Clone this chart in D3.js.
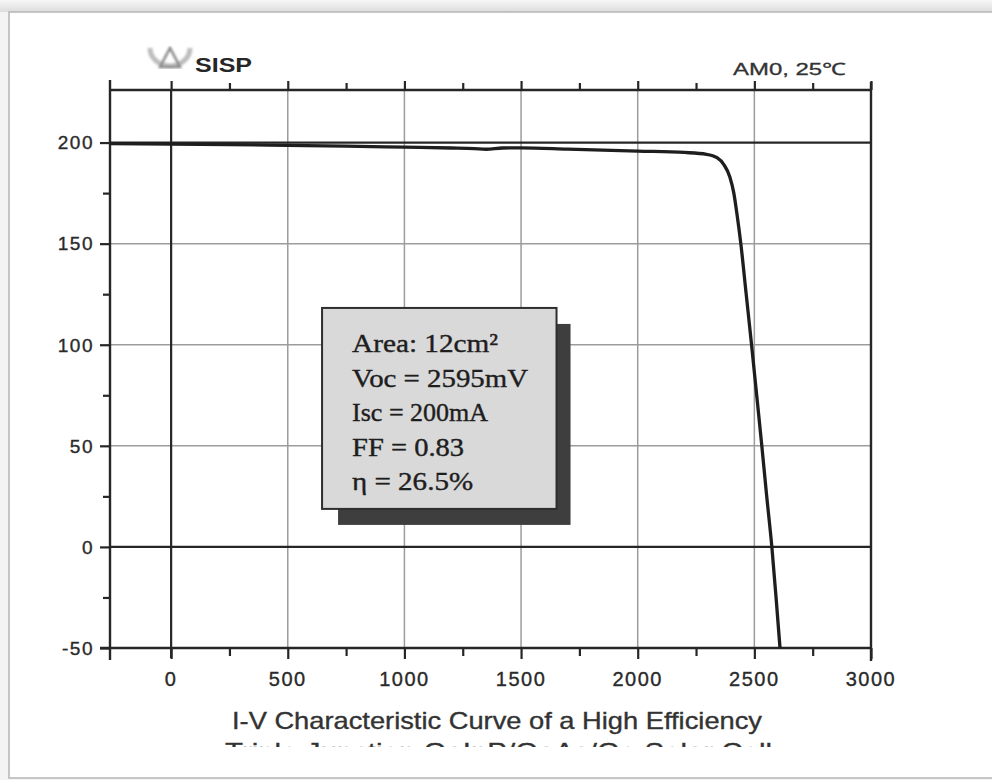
<!DOCTYPE html>
<html>
<head>
<meta charset="utf-8">
<script src="https://cdn.jsdelivr.net/npm/d3@7"></script>
<style>
  html, body { margin: 0; padding: 0; background: #f4f4f4; }
  svg { display: block; }
</style>
</head>
<body>
<svg id="chart" width="992" height="780"></svg>
<script>
// ---- data ----
const voltage = [-262, 0, 250, 500, 750, 1000, 1200, 1300, 1350, 1420, 1500, 1700, 2000, 2200, 2295, 2340, 2370, 2395, 2412, 2425, 2442, 2465, 2488, 2510, 2532, 2553, 2575, 2593, 2610];
const current = [199.5, 199.3, 199.0, 198.6, 198.2, 197.7, 197.3, 197.0, 196.7, 197.3, 197.4, 196.8, 195.8, 195.1, 194.2, 192.5, 189, 183, 175, 165, 150, 125, 100, 75, 50, 25, 0, -25, -50];
const xMajor = [0, 500, 1000, 1500, 2000, 2500, 3000];
const xMinor = [250, 750, 1250, 1750, 2250, 2750];
const yMajor = [200, 150, 100, 50, 0, -50];
const yMinor = [175, 125, 75, 25, -25];
const xDarkGrid = [0];
const xGrayGrid = [500, 1000, 1500, 2000, 2500];
const yDarkGrid = [200, 0];
const yGrayGrid = [150, 100, 50];
const infoLines = ["Area: 12cm\u00B2", "Voc = 2595mV", "Isc = 200mA", "FF = 0.83", "\u03B7 = 26.5%"];
const infoWidths = [146, 176, 136, 112, 121];
const infoBox = {v0: 647, v1: 1652, i0: 118.2, i1: 18.8};
const captionLines = ["I-V Characteristic Curve of a High Efficiency", "Triple Junction GaInP/GaAs/Ge Solar Cell"];

// ---- layout ----
const svg = d3.select("#chart");
const L = 110, R = 871, T = 90, B = 648;
const x = d3.scaleLinear().domain([-262, 3000]).range([L, R]);
const y = d3.scaleLinear().domain([-50, 226]).range([B, T]);

const defs = svg.append("defs");
defs.append("filter").attr("id", "blur").append("feGaussianBlur").attr("stdDeviation", 1.2);
const grad = defs.append("linearGradient").attr("id", "topShade").attr("x1", 0).attr("x2", 0).attr("y1", 0).attr("y2", 1);
grad.append("stop").attr("offset", "0%").attr("stop-color", "#f7f7f7");
grad.append("stop").attr("offset", "100%").attr("stop-color", "#dcdcdc");
defs.append("clipPath").attr("id", "capClip").append("rect").attr("x", 0).attr("y", 690).attr("width", 992).attr("height", 57);

// page frame
svg.append("rect").attr("x", 0).attr("y", 0).attr("width", 992).attr("height", 12).attr("fill", "url(#topShade)");
svg.append("rect").attr("x", 9).attr("y", 12).attr("width", 1000).attr("height", 766)
  .attr("fill", "#ffffff").attr("stroke", "#b5b5b5").attr("stroke-width", 1.5);

// grid
const g = svg.append("g");
g.selectAll(".vg").data(xGrayGrid).join("line")
  .attr("x1", d => x(d)).attr("x2", d => x(d)).attr("y1", T).attr("y2", B)
  .attr("stroke", "#9c9c9c").attr("stroke-width", 1.5);
g.selectAll(".hg").data(yGrayGrid).join("line")
  .attr("x1", L).attr("x2", R).attr("y1", d => y(d)).attr("y2", d => y(d))
  .attr("stroke", "#9c9c9c").attr("stroke-width", 1.5);
g.selectAll(".vd").data(xDarkGrid).join("line")
  .attr("x1", d => x(d)).attr("x2", d => x(d)).attr("y1", T).attr("y2", B + 10)
  .attr("stroke", "#262626").attr("stroke-width", 2.2);
g.selectAll(".hd").data(yDarkGrid).join("line")
  .attr("x1", L).attr("x2", R).attr("y1", d => y(d)).attr("y2", d => y(d))
  .attr("stroke", "#262626").attr("stroke-width", 2.2);

// axes ticks
function styleAxis(sel) {
  sel.select(".domain").remove();
  sel.selectAll("line").attr("stroke", "#262626").attr("stroke-width", 2.2);
}
svg.append("g").attr("transform", `translate(${L},0)`)
  .call(d3.axisLeft(y).tickValues(yMajor).tickSize(10).tickFormat("")).call(styleAxis);
svg.append("g").attr("transform", `translate(${L},0)`)
  .call(d3.axisLeft(y).tickValues(yMinor).tickSize(7).tickFormat("")).call(styleAxis);
svg.append("g").attr("transform", `translate(0,${B})`)
  .call(d3.axisBottom(x).tickValues(xMajor).tickSize(11).tickFormat("")).call(styleAxis);
svg.append("g").attr("transform", `translate(0,${B})`)
  .call(d3.axisBottom(x).tickValues(xMinor).tickSize(8).tickFormat("")).call(styleAxis);
svg.append("g").attr("transform", `translate(0,${T})`)
  .call(d3.axisTop(x).tickValues(xMajor).tickSize(9).tickFormat("")).call(styleAxis);
svg.append("g").attr("transform", `translate(0,${T})`)
  .call(d3.axisTop(x).tickValues(xMinor).tickSize(7).tickFormat("")).call(styleAxis);

// frame lines
const fr = svg.append("g").attr("stroke", "#262626").attr("stroke-width", 2.4);
fr.append("line").attr("x1", L).attr("x2", L).attr("y1", T - 10).attr("y2", B + 12);
fr.append("line").attr("x1", R).attr("x2", R).attr("y1", T - 8).attr("y2", B + 13);
fr.append("line").attr("x1", L).attr("x2", R).attr("y1", T).attr("y2", T);
fr.append("line").attr("x1", L - 10).attr("x2", R).attr("y1", B).attr("y2", B);

// tick labels
svg.append("g").selectAll("text").data(yMajor).join("text")
  .attr("x", 94).attr("y", d => y(d)).attr("dy", "0.36em")
  .attr("text-anchor", "end").attr("font-family", "Liberation Sans, Arial, sans-serif")
  .attr("font-size", 19).attr("letter-spacing", 1.5).attr("fill", "#2a2a2a")
  .attr("stroke", "#2a2a2a").attr("stroke-width", 0.35)
  .text(d => d);
svg.append("g").selectAll("text").data(xMajor).join("text")
  .attr("x", d => x(d)).attr("y", 686)
  .attr("text-anchor", "middle").attr("font-family", "Liberation Sans, Arial, sans-serif")
  .attr("font-size", 20).attr("letter-spacing", 1.5).attr("fill", "#2a2a2a")
  .attr("stroke", "#2a2a2a").attr("stroke-width", 0.35)
  .text(d => d);

// curve
const pts = voltage.map((v, i) => [v, current[i]]);
svg.append("path").datum(pts)
  .attr("d", d3.line().x(d => x(d[0])).y(d => y(d[1])).curve(d3.curveMonotoneX))
  .attr("fill", "none").attr("stroke", "#1e1e1e").attr("stroke-width", 3.3);

// info box
const bx0 = x(infoBox.v0), bx1 = x(infoBox.v1), by0 = y(infoBox.i0), by1 = y(infoBox.i1);
svg.append("rect").attr("x", bx0 + 16).attr("y", by0 + 16).attr("width", bx1 - bx0 - 2).attr("height", by1 - by0)
  .attr("fill", "#3e3e3e");
svg.append("rect").attr("x", bx0).attr("y", by0).attr("width", bx1 - bx0).attr("height", by1 - by0)
  .attr("fill", "#d9d9d9").attr("stroke", "#2e2e2e").attr("stroke-width", 2);
svg.append("g").selectAll("text").data(infoLines).join("text")
  .attr("x", bx0 + 30).attr("y", (d, i) => by0 + 44 + i * 34.6)
  .attr("font-family", "Liberation Serif, 'Times New Roman', serif")
  .attr("font-size", 26).attr("fill", "#1e1e1e")
  .attr("stroke", "#1e1e1e").attr("stroke-width", 0.4)
  .attr("textLength", (d, i) => infoWidths[i]).attr("lengthAdjust", "spacingAndGlyphs")
  .text(d => d);

// logo
const logo = svg.append("g").attr("filter", "url(#blur)").attr("fill", "none");
logo.append("path").attr("d", "M150,48 A20,18 0 0 0 190,48").attr("stroke", "#bdbdbd").attr("stroke-width", 5);
logo.append("path").attr("d", "M160,67 L170,48 L180,67 Z").attr("stroke", "#8a8a8a").attr("stroke-width", 2.5);
svg.append("text").attr("x", 195).attr("y", 72)
  .attr("font-family", "Liberation Sans, Arial, sans-serif").attr("font-weight", "bold")
  .attr("font-size", 20).attr("fill", "#262626")
  .attr("textLength", 57).attr("lengthAdjust", "spacingAndGlyphs").text("SISP");
svg.append("text").attr("x", 733).attr("y", 75)
  .attr("font-family", "Liberation Sans, Arial, sans-serif")
  .attr("font-size", 17).attr("fill", "#333")
  .attr("stroke", "#333").attr("stroke-width", 0.3)
  .attr("textLength", 113).attr("lengthAdjust", "spacingAndGlyphs").text("AM0, 25\u2103");

// caption
const cap = svg.append("g").attr("clip-path", "url(#capClip)");
cap.selectAll("text").data(captionLines).join("text")
  .attr("x", (d, i) => i === 0 ? 232 : 225).attr("y", (d, i) => i === 0 ? 729 : 760)
  .attr("font-family", "'Liberation Sans Narrow', 'Liberation Sans', Arial, sans-serif")
  .attr("font-size", 24).attr("fill", "#333")
  .attr("stroke", "#333").attr("stroke-width", 0.35)
  .attr("textLength", (d, i) => i === 0 ? 530 : 547).attr("lengthAdjust", "spacingAndGlyphs")
  .text(d => d);
</script>
</body>
</html>
